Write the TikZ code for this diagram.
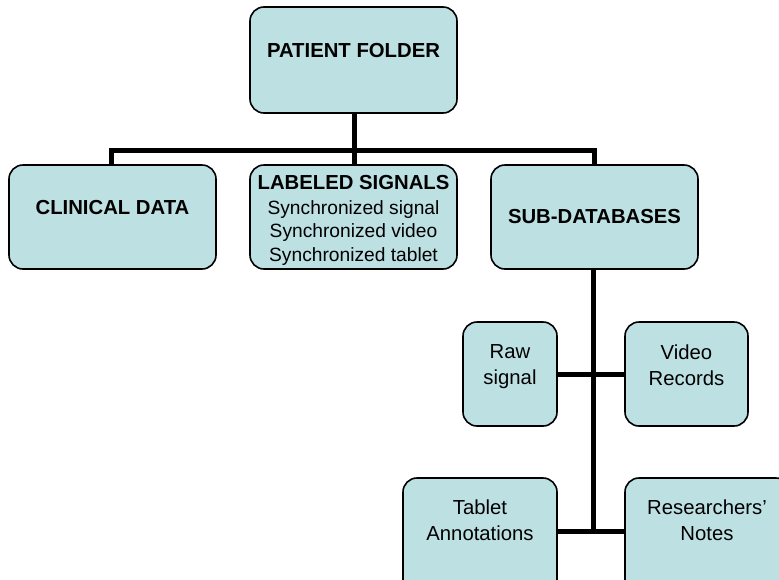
\documentclass[tikz,border=0pt]{standalone}
\usepackage{fontspec}
\setmainfont{Liberation Sans}
\begin{document}
\begin{tikzpicture}[x=1pt,y=-1pt,
  box/.style={draw=black,line width=1.6pt,fill=boxfill,rounded corners=14pt},
  conn/.style={line width=5pt,draw=black},
  lbl/.style={inner sep=0pt,align=center,font=\fontsize{20.3}{26}\selectfont},
  blbl/.style={inner sep=0pt,align=center,font=\fontsize{20.3}{24}\selectfont\bfseries}]
\definecolor{boxfill}{HTML}{BDE0E3}
\useasboundingbox (0,0) rectangle (779,579);
% boxes
\draw[box] (250,7) rectangle (457,113);
\node[blbl] (pf) at (353.5,51) {PATIENT FOLDER};
\coordinate (pfb) at (354,113);
\draw[box] (9,165) rectangle (216,269);
\node[blbl] (cd) at (112.5,208) {CLINICAL DATA};
\draw[box] (250,165) rectangle (457,269);
\node[blbl] (ls) at (353.5,183) {LABELED SIGNALS};
\node[lbl,font=\fontsize{19.2}{23.5}\selectfont] (lst) at (353.5,233) {Synchronized signal\\Synchronized video\\Synchronized tablet};
\draw[box] (491,165) rectangle (698,269);
\node[blbl] (sd) at (594.5,217) {SUB-DATABASES};
\draw[box] (463,322) rectangle (557,426);
\node[lbl] (rs) at (510,367) {Raw\\signal};
\draw[box] (625,322) rectangle (748,426);
\node[lbl] (vr) at (686.5,365) {Video\\Records};
\draw[box] (403,478) rectangle (557,595);
\node[lbl] (ta) at (480,520) {Tablet\\Annotations};
\draw[box] (625,478) rectangle (790,595);
\node[lbl] (rn) at (707,520) {Researchers'\\Notes};
% connector coordinates
\coordinate (hb) at (354,150);
\coordinate (hl) at (111,150);
\coordinate (hr) at (594,150);
\coordinate (cdt) at (111,165);
\coordinate (lst0) at (354,165);
\coordinate (sdt) at (594,165);
\coordinate (sdb) at (593,269);
\coordinate (v1) at (593,374);
\coordinate (v2) at (593,531);
\coordinate (rsr) at (557,374);
\coordinate (vrl) at (625,374);
\coordinate (tar) at (557,531);
\coordinate (rnl) at (625,531);
\draw[conn] (pfb) -- (lst0);
\draw[conn,line join=miter] (cdt) -- (hl) -- (hr) -- (sdt);
\draw[conn] (sdb) -- (v2);
\draw[conn] (rsr) -- (vrl);
\draw[conn] (tar) -- (rnl);
\end{tikzpicture}
\end{document}
